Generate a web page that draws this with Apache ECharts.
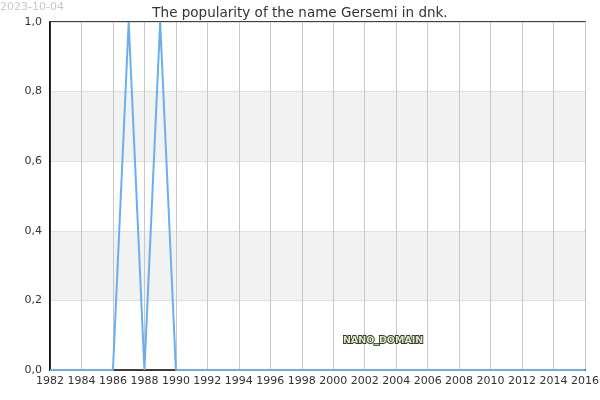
<!DOCTYPE html>
<html>
<head>
    <meta charset="utf-8">
    <title>Gersemi</title>
    <script src="https://cdn.jsdelivr.net/npm/echarts@6/dist/echarts.min.js"></script>
    <style>body{margin:0;} #main{width:600px;height:400px;}</style>
</head>
<body>
<div id="main"></div>
<script type="text/javascript">
    // data
    var years = [1982,1983,1984,1985,1986,1987,1988,1989,1990,1991,1992,1993,1994,1995,1996,1997,1998,1999,
                 2000,2001,2002,2003,2004,2005,2006,2007,2008,2009,2010,2011,2012,2013,2014,2015,2016];
    var popularity = [0,0,0,0,0,1,0,1,0,0,0,0,0,0,0,0,0,0,
                      0,0,0,0,0,0,0,0,0,0,0,0,0,0,0,0,0];
    var yTicks = [0, 0.2, 0.4, 0.6, 0.8, 1.0];

    var points = years.map(function (y, i) { return [y, popularity[i]]; });
    var font = 'DejaVu Sans';
    var wm = 'Names of the World © 2023';

    var myChart = echarts.init(document.getElementById('main'));
    var option = {
        animation: false,
        backgroundColor: '#fff',
        title: {
            text: 'The popularity of the name Gersemi in dnk.',
            left: 'center', top: 1,
            textStyle: {fontFamily: font, fontSize: 13.5, fontWeight: 'normal', color: '#333'}
        },
        grid: {left: 50, right: 15, top: 22, bottom: 30, outerBoundsMode: 'none', containLabel: false,
               show: true, borderColor: '#000', borderWidth: 1.5},
        xAxis: {
            type: 'value', min: 1982, max: 2016, interval: 2,
            axisLine: {lineStyle: {color: '#000', width: 1.5}},
            axisTick: {show: false},
            axisLabel: {fontFamily: font, fontSize: 11, color: '#333', margin: 6,
                showMinLabel: true, showMaxLabel: true, hideOverlap: false,
                formatter: function (v) { return String(v); }},
            splitLine: {show: true, lineStyle: {color: '#c8c8c8', width: 1}}
        },
        yAxis: {
            type: 'value', min: yTicks[0], max: yTicks[yTicks.length - 1], interval: 0.2,
            axisLine: {show: true, lineStyle: {color: '#000', width: 1.5}},
            axisTick: {show: false},
            axisLabel: {fontFamily: font, fontSize: 11, color: '#333', margin: 8,
                formatter: function (v) { return v.toFixed(1).replace('.', ','); }},
            splitLine: {show: true, lineStyle: {color: '#e0e0e0', width: 1}},
            splitArea: {show: true, areaStyle: {color: ['#fff', '#f2f2f2']}}
        },
        series: [{
            type: 'line',
            data: points,
            symbol: 'none',
            lineStyle: {color: '#6aaef0', width: 2},
            z: 3
        }],
        graphic: [
            {type: 'text', left: 0, top: 2, style: {text: '2023-10-04', fill: '#c8c8c8', font: '11px DejaVu Sans'}},
            {type: 'text', left: 62, top: 68, style: {text: wm, fill: '#eeeefc', font: '11px DejaVu Sans'}},
            {type: 'text', left: 294, top: 124, style: {text: wm, fill: '#eeeefc', font: '11px DejaVu Sans'}},
            {type: 'text', left: 120, top: 185, style: {text: wm, fill: '#eeeefc', font: '11px DejaVu Sans'}},
            {type: 'text', left: 342, top: 335, z: 10,
             style: {text: 'NANO_DOMAIN', fill: '#dfe8cc', stroke: '#2f3a1f', lineWidth: 1.8,
                     font: 'bold 9.5px DejaVu Sans'}}
        ]
    };
    myChart.setOption(option);
</script>
</body>
</html>
